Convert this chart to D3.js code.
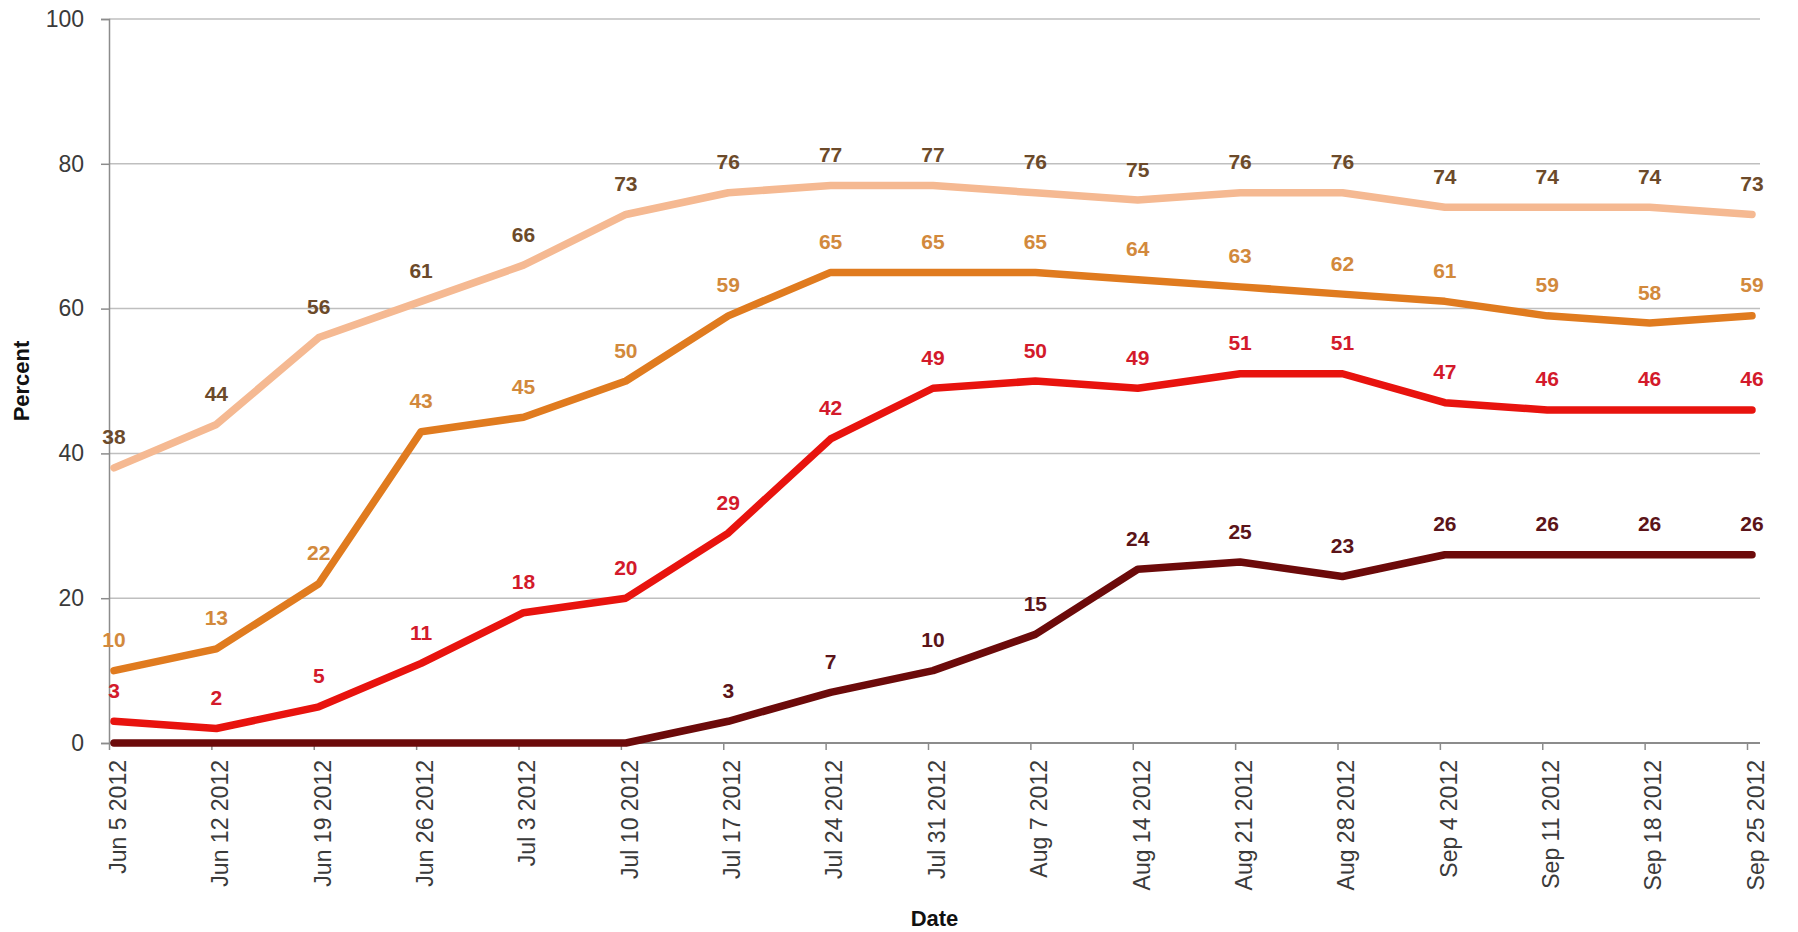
<!DOCTYPE html>
<html>
<head>
<meta charset="utf-8">
<script src="https://cdn.jsdelivr.net/npm/d3@7"></script>
<style>
  html, body { margin: 0; padding: 0; background: #ffffff; }
  svg { display: block; font-family: "Liberation Sans", Arial, sans-serif; }
</style>
</head>
<body>
<svg id="chart" width="1798" height="932"></svg>
<script>
// Weekly survey dates
const dates = ["Jun 5 2012", "Jun 12 2012", "Jun 19 2012", "Jun 26 2012", "Jul 3 2012",
  "Jul 10 2012", "Jul 17 2012", "Jul 24 2012", "Jul 31 2012", "Aug 7 2012", "Aug 14 2012",
  "Aug 21 2012", "Aug 28 2012", "Sep 4 2012", "Sep 11 2012", "Sep 18 2012", "Sep 25 2012"];

// Percent values for each series
const seriesPeach  = [38, 44, 56, 61, 66, 73, 76, 77, 77, 76, 75, 76, 76, 74, 74, 74, 73];
const seriesOrange = [10, 13, 22, 43, 45, 50, 59, 65, 65, 65, 64, 63, 62, 61, 59, 58, 59];
const seriesRed    = [3, 2, 5, 11, 18, 20, 29, 42, 49, 50, 49, 51, 51, 47, 46, 46, 46];
const seriesMaroon = [0, 0, 0, 0, 0, 0, 3, 7, 10, 15, 24, 25, 23, 26, 26, 26, 26];

const yTicks = [0, 20, 40, 60, 80, 100];

const series = [
  { values: seriesPeach,  line: "#f5b992", label: "#6c4a2a" },
  { values: seriesOrange, line: "#e07b1f", label: "#d2893c" },
  { values: seriesRed,    line: "#e8130e", label: "#d31a2b" },
  { values: seriesMaroon, line: "#6c0a0a", label: "#5b1419" }
];

const svg = d3.select("#chart");
const plotLeft = 109, plotTop = 19, plotBottom = 743, lastTick = 1747, gridRight = 1760;
const pointShift = 5;

const x = d3.scalePoint().domain(dates).range([plotLeft, lastTick]);
const y = d3.scaleLinear().domain([0, 100]).range([plotBottom, plotTop]);

// Horizontal gridlines
svg.append("g")
  .selectAll("line")
  .data(yTicks.filter(v => v > 0))
  .join("line")
  .attr("x1", plotLeft).attr("x2", gridRight)
  .attr("y1", d => y(d)).attr("y2", d => y(d))
  .attr("stroke", "#bfbfbf").attr("stroke-width", 1.5);

// Y axis
const yAxis = svg.append("g")
  .attr("transform", `translate(${plotLeft},0)`)
  .call(d3.axisLeft(y).tickValues(yTicks).tickSize(8).tickPadding(17).tickFormat(d3.format("d")));
yAxis.select(".domain").attr("stroke", "#8c8c8c").attr("stroke-width", 1.5);
yAxis.selectAll(".tick line").attr("stroke", "#8c8c8c").attr("stroke-width", 1.5);
yAxis.selectAll(".tick text")
  .attr("font-size", 23).attr("fill", "#3a3a3a")
  .attr("font-family", "'Liberation Sans', Arial, sans-serif");

// X axis
const xAxis = svg.append("g")
  .attr("transform", `translate(0,${plotBottom})`)
  .call(d3.axisBottom(x).tickSize(7).tickSizeOuter(0));
xAxis.select(".domain")
  .attr("d", `M${plotLeft},0H${gridRight}`)
  .attr("stroke", "#8c8c8c").attr("stroke-width", 2);
xAxis.selectAll(".tick line").attr("stroke", "#8c8c8c").attr("stroke-width", 1.5);
xAxis.selectAll(".tick text")
  .attr("font-size", 23).attr("fill", "#3a3a3a")
  .attr("font-family", "'Liberation Sans', Arial, sans-serif")
  .attr("text-anchor", "end")
  .attr("transform", "translate(8,17) rotate(-90)")
  .attr("x", 0).attr("y", 0).attr("dy", "0.36em");

// Axis titles
svg.append("text")
  .attr("x", (plotLeft + gridRight) / 2).attr("y", 926)
  .attr("text-anchor", "middle")
  .attr("font-size", 22).attr("font-weight", "bold").attr("fill", "#111")
  .text("Date");

svg.append("text")
  .attr("transform", `translate(29,${(plotTop + plotBottom) / 2}) rotate(-90)`)
  .attr("text-anchor", "middle")
  .attr("font-size", 22).attr("font-weight", "bold").attr("fill", "#111")
  .text("Percent");

// Lines
const line = d3.line()
  .x((d, i) => x(dates[i]) + pointShift)
  .y(d => y(d));

const plot = svg.append("g");
series.forEach(s => {
  plot.append("path")
    .datum(s.values)
    .attr("d", line)
    .attr("fill", "none")
    .attr("stroke", s.line)
    .attr("stroke-width", 7.5)
    .attr("stroke-linejoin", "round")
    .attr("stroke-linecap", "round");
});

// Value labels above each point
series.forEach(s => {
  plot.append("g")
    .selectAll("text")
    .data(s.values.map((v, i) => ({ v, i })).filter(d => d.v > 0))
    .join("text")
    .attr("x", d => x(dates[d.i]) + pointShift)
    .attr("y", d => y(d.v) - 23.5)
    .attr("text-anchor", "middle")
    .attr("font-size", 21).attr("font-weight", "bold")
    .attr("fill", s.label)
    .text(d => d.v);
});
</script>
</body>
</html>
